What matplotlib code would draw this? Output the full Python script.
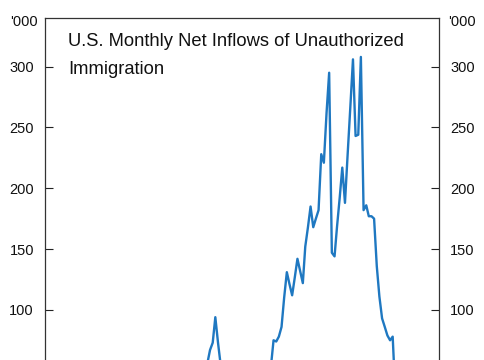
import numpy as np
import pandas as pd
import matplotlib
matplotlib.use("Agg")
import matplotlib.pyplot as plt

plt.rcParams['font.family'] = ['Liberation Sans', 'DejaVu Sans']

title_lines = ["U.S. Monthly Net Inflows of Unauthorized", "Immigration"]
unit_label = "'000"

# segment 1 (2019 surge)
months_a = ["2019-01", "2019-02", "2019-03", "2019-04", "2019-05", "2019-06", "2019-07", "2019-08"]
values_a = [45, 57, 67, 73, 94, 73, 55, 40]

# segment 2 (2021-2025)
months_b = ["2021-01", "2021-02", "2021-03", "2021-04", "2021-05", "2021-06", "2021-07", "2021-08",
            "2021-09", "2021-10", "2021-11", "2021-12", "2022-01", "2022-02", "2022-03", "2022-04",
            "2022-05", "2022-06", "2022-07", "2022-08", "2022-09", "2022-10", "2022-11", "2022-12",
            "2023-01", "2023-02", "2023-03", "2023-04", "2023-05", "2023-06", "2023-07", "2023-08",
            "2023-09", "2023-10", "2023-11", "2023-12", "2024-01", "2024-02", "2024-03", "2024-04",
            "2024-05", "2024-06", "2024-07", "2024-08", "2024-09", "2024-10", "2024-11", "2024-12",
            "2025-01"]
values_b = [40, 55, 75, 74, 78, 86, 110, 131,
            121, 112, 127, 142, 132, 122, 152, 168,
            185, 168, 175, 182, 228, 221, 262, 295,
            147, 144, 168, 192, 217, 188, 227, 266,
            306, 243, 244, 308, 182, 186, 177, 177,
            175, 136, 111, 93, 86, 79, 75, 78,
            30]

# only the ticks visible in the cropped chart
yticks = [100, 150, 200, 250, 300]

W, H = 485, 360
fig = plt.figure(figsize=(W / 100, H / 100), dpi=100)
# axes extends below the visible canvas (chart is cropped)
ax_left, ax_right, ax_top, ax_bottom = 45, 439, 18, 431.5
ax = fig.add_axes([ax_left / W, 1 - ax_bottom / H, (ax_right - ax_left) / W, (ax_bottom - ax_top) / H])

line_color = '#1f78c1'
da = pd.to_datetime(months_a) + pd.Timedelta(days=14)
db = pd.to_datetime(months_b) + pd.Timedelta(days=14)
ax.plot(da, values_a, color=line_color, lw=1.7)
ax.plot(db, values_b, color=line_color, lw=1.7)

ax.set_xlim(pd.Timestamp("2014-01-01"), pd.Timestamp("2026-06-01"))
ax.set_ylim(0, 340)
ax.set_yticks(yticks)
ax.tick_params(axis='y', which='both', direction='in', length=6, width=0.8,
               labelsize=10.5, left=True, right=True, labelleft=True, labelright=True,
               pad=8, colors='#222222')
ax.tick_params(axis='y', labelcolor='#111111')
ax.tick_params(axis='x', labelbottom=False, bottom=False)
for s in ax.spines.values():
    s.set_color('#333333')
    s.set_linewidth(0.9)

fig.text(38 / W, 1 - 22 / H, unit_label, ha='right', va='center', fontsize=10.5, color='#111111')
fig.text(448 / W, 1 - 22 / H, unit_label, ha='left', va='center', fontsize=10.5, color='#111111')

fig.text(68 / W, 1 - 42 / H, title_lines[0], ha='left', va='center', fontsize=13.2, color='#111111')
fig.text(68 / W, 1 - 70 / H, title_lines[1], ha='left', va='center', fontsize=13.2, color='#111111')

fig.savefig("out.png", dpi=100)
